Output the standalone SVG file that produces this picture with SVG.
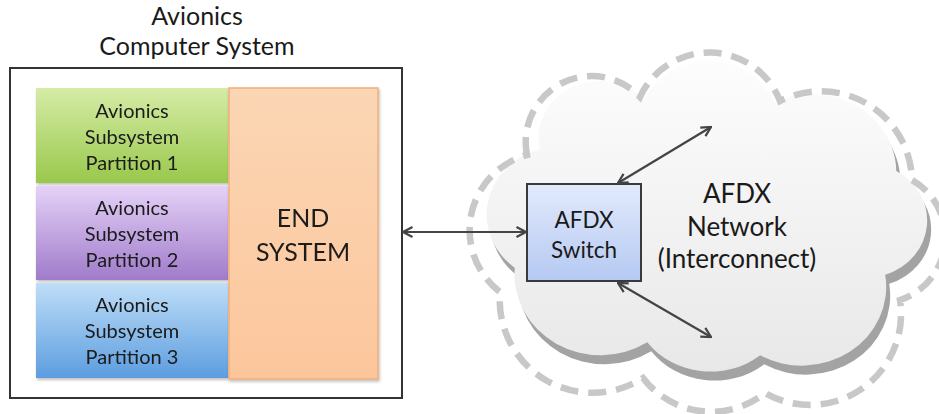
<svg xmlns="http://www.w3.org/2000/svg" width="939" height="414" viewBox="0 0 939 414">
<defs>
<style>
.t{font-family:Lato,"Open Sans","DejaVu Sans",sans-serif;fill:#1a1a1a;text-anchor:middle}
.tp{font-size:20px}
.conn{stroke:#444;stroke-width:2.2;fill:none;marker-start:url(#ah);marker-end:url(#ah)}
</style>
<linearGradient id="gGreen" x1="0" y1="0" x2="0" y2="1"><stop offset="0" stop-color="#d5eca6"/><stop offset="1" stop-color="#99c84c"/></linearGradient>
<linearGradient id="gPurple" x1="0" y1="0" x2="0" y2="1"><stop offset="0" stop-color="#e5d2f7"/><stop offset="1" stop-color="#a07bcb"/></linearGradient>
<linearGradient id="gBlue" x1="0" y1="0" x2="0" y2="1"><stop offset="0" stop-color="#bfdef8"/><stop offset="1" stop-color="#5c9ddf"/></linearGradient>
<linearGradient id="gOrange" x1="0" y1="0" x2="0" y2="1"><stop offset="0" stop-color="#fbd6b4"/><stop offset="1" stop-color="#fcc69c"/></linearGradient>
<linearGradient id="gSwitch" x1="0" y1="0" x2="0" y2="1"><stop offset="0" stop-color="#e2eafc"/><stop offset="1" stop-color="#b5c9f2"/></linearGradient>
<linearGradient id="gCloud" x1="0" y1="0" x2="0" y2="1"><stop offset="0" stop-color="#fdfdfd"/><stop offset="1" stop-color="#e8e8e8"/></linearGradient>
<filter id="sh" x="-5%" y="-5%" width="115%" height="115%"><feDropShadow dx="1" dy="2" stdDeviation="1.5" flood-color="#000" flood-opacity="0.25"/></filter>
<path id="cloud" d="M527 155 A66 66 0 0 1 640 97 A76 76 0 0 1 780 101 A91 91 0 0 1 912 180 A66 66 0 0 1 900 300 A91 91 0 0 1 765 393 A86 86 0 0 1 643 378 A93 93 0 0 1 500 292 A78 78 0 0 1 527 155 Z"/>
<marker id="ah" viewBox="0 0 12 12" refX="11" refY="6" markerWidth="12" markerHeight="12" markerUnits="userSpaceOnUse" orient="auto-start-reverse"><path d="M1.5 1 L11 6 L1.5 11" fill="none" stroke="#444" stroke-width="2.2" stroke-linejoin="miter"/></marker>
</defs>
<rect width="939" height="414" fill="#fff"/>

<g id="cloud-network">
<g transform="translate(704 121) scale(0.926 0.866) translate(-700 -112)"><use href="#cloud" fill="#a3a3a3"/></g>
<g transform="translate(700 112) scale(0.926 0.866) translate(-700 -112)"><use href="#cloud" fill="url(#gCloud)"/></g>
<use href="#cloud" fill="none" stroke="#c8c8c8" stroke-width="6.5" stroke-dasharray="18 10"/>
<text class="t" x="737" y="203" font-size="26">AFDX</text>
<text class="t" x="737" y="236" font-size="26">Network</text>
<text class="t" x="737" y="268" font-size="26">(Interconnect)</text>
</g>

<g id="title">
<text class="t" x="197" y="25" font-size="25">Avionics</text>
<text class="t" x="197" y="55" font-size="25">Computer System</text>
</g>

<g id="computer-system">
<rect x="10" y="68" width="392" height="330" fill="#fff" stroke="#333" stroke-width="2"/>
</g>

<g id="partition1" filter="url(#sh)">
<rect x="36" y="88" width="192" height="95" fill="url(#gGreen)"/>
<text class="t tp" x="132" y="118">Avionics</text>
<text class="t tp" x="132" y="144">Subsystem</text>
<text class="t tp" x="132" y="170">Partition 1</text>
</g>
<g id="partition2" filter="url(#sh)">
<rect x="36" y="186" width="192" height="94" fill="url(#gPurple)"/>
<text class="t tp" x="132" y="215">Avionics</text>
<text class="t tp" x="132" y="241">Subsystem</text>
<text class="t tp" x="132" y="267">Partition 2</text>
</g>
<g id="partition3" filter="url(#sh)">
<rect x="36" y="283" width="192" height="95" fill="url(#gBlue)"/>
<text class="t tp" x="132" y="312">Avionics</text>
<text class="t tp" x="132" y="338">Subsystem</text>
<text class="t tp" x="132" y="364">Partition 3</text>
</g>
<g id="end-system" filter="url(#sh)">
<rect x="229" y="88" width="149" height="291" fill="url(#gOrange)" stroke="#f1ae78" stroke-width="1.5"/>
<text class="t" x="303" y="227" font-size="25">END</text>
<text class="t" x="303" y="261" font-size="25">SYSTEM</text>
</g>

<g id="afdx-switch">
<rect x="527" y="184" width="114" height="97" fill="url(#gSwitch)" stroke="#3a3a3a" stroke-width="2"/>
<text class="t" x="584" y="228" font-size="22.5">AFDX</text>
<text class="t" x="584" y="258" font-size="22.5">Switch</text>
</g>

<g id="connectors">
<line class="conn" x1="403" y1="232" x2="526" y2="232"/>
<line class="conn" x1="618" y1="183" x2="711" y2="127"/>
<line class="conn" x1="618" y1="283" x2="711" y2="337"/>
</g>
</svg>
